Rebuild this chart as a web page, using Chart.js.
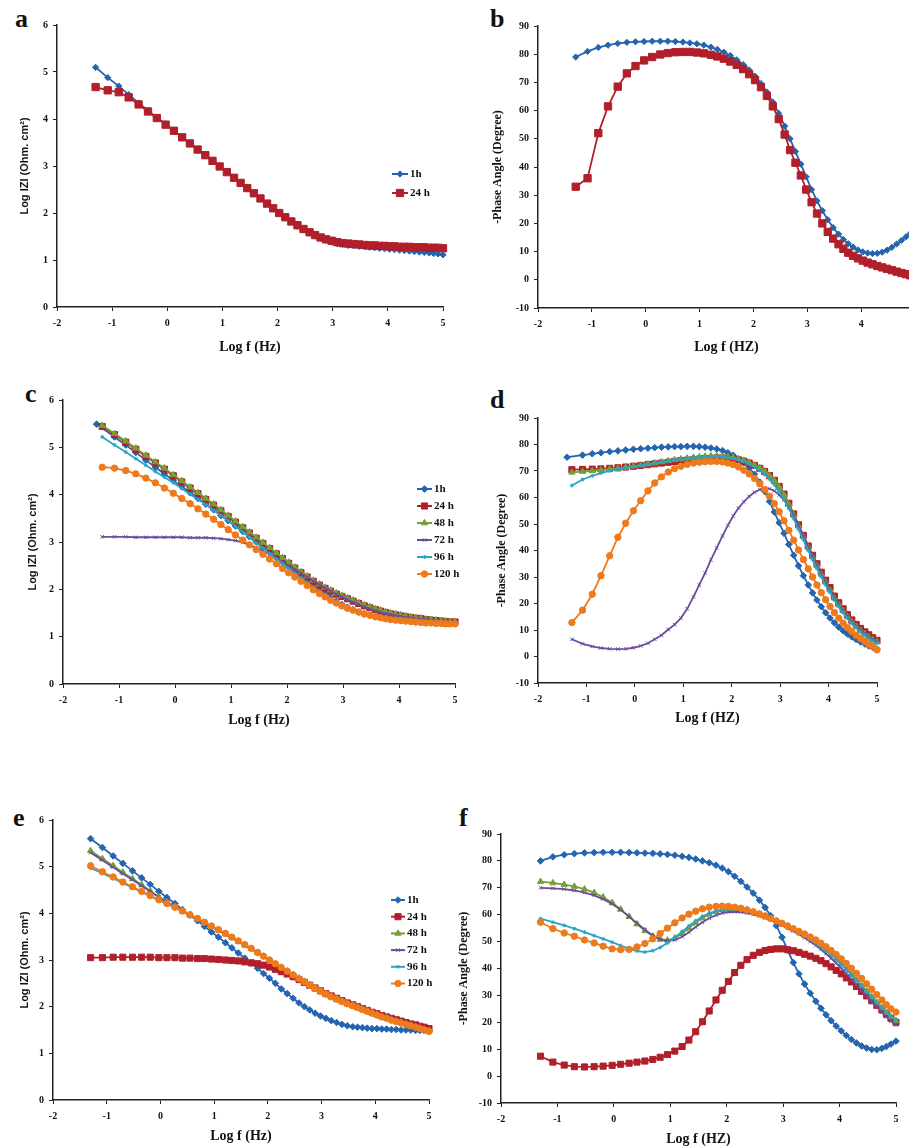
<!DOCTYPE html>
<html>
<head>
<meta charset="utf-8">
<script src="https://cdn.jsdelivr.net/npm/chart.js@4.4.1/dist/chart.umd.min.js"></script>
<style>
  html, body { margin: 0; padding: 0; background: #fff; }
  body { position: relative; width: 909px; height: 1146px; overflow: hidden; }
  canvas { position: absolute; }
  .tag { position: absolute; font: bold 26px "Liberation Serif", serif; line-height: 1; color: #111; }
</style>
</head>
<body>
<div class="tag" style="left:15px;top:6px">a</div>
<div class="tag" style="left:490px;top:6px">b</div>
<div class="tag" style="left:25px;top:381px">c</div>
<div class="tag" style="left:490px;top:387px">d</div>
<div class="tag" style="left:13px;top:805px">e</div>
<div class="tag" style="left:459px;top:805px">f</div>
<script>
// log f (Hz) of the measured points
const logF = [-1.30,-1.08,-0.88,-0.70,-0.52,-0.35,-0.19,-0.03,0.12,0.27,0.41,0.55,0.69,0.82,0.95,
  1.08,1.21,1.33,1.45,1.57,1.69,1.81,1.92,2.03,
  2.14,2.25,2.36,2.47,2.58,2.68,2.78,2.88,2.98,
  3.08,3.18,3.28,3.38,3.48,3.58,3.67,3.76,3.85,3.94,
  4.03,4.12,4.21,4.30,4.39,4.48,4.57,4.66,4.75,4.83,4.91,5.00]
// the 1h runs of c and d start a bit lower
const logF1h = [-1.40].concat(logF.slice(1))

const xTicks = [-2, -1, 0, 1, 2, 3, 4, 5]

// a: log|Z|
const a1h = [5.10,4.88,4.70,4.52,4.34,4.18,4.03,3.89,3.75,3.61,3.48,3.35,3.23,3.11,2.99,
  2.87,2.75,2.64,2.53,2.42,2.31,2.20,2.10,2.00,
  1.90,1.81,1.72,1.64,1.57,1.51,1.46,1.42,1.38,
  1.35,1.33,1.31,1.30,1.29,1.28,1.27,1.26,1.25,1.24,
  1.23,1.22,1.21,1.20,1.19,1.18,1.17,1.16,1.15,1.14,1.13,1.11]
const a24h = [4.68,4.61,4.57,4.46,4.31,4.16,4.02,3.88,3.75,3.61,3.48,3.35,3.23,3.11,2.99,
  2.87,2.75,2.64,2.53,2.42,2.31,2.20,2.10,2.00,
  1.91,1.82,1.74,1.66,1.59,1.53,1.48,1.44,1.41,
  1.38,1.36,1.35,1.34,1.33,1.32,1.31,1.31,1.30,1.30,
  1.29,1.29,1.28,1.28,1.28,1.27,1.27,1.27,1.26,1.26,1.26,1.25]

// b: phase
const b1h = [79.0,81.0,82.4,83.2,83.8,84.2,84.4,84.5,84.6,84.6,84.6,84.5,84.3,84.0,83.7,
  83.2,82.5,81.7,80.7,79.5,78.0,76.3,74.4,72.2,
  69.6,66.6,63.0,59.0,54.5,50.0,45.5,41.0,36.5,
  32.0,28.0,24.5,21.3,18.5,16.2,14.3,12.8,11.6,10.6,
  9.9,9.5,9.3,9.4,9.8,10.5,11.5,12.7,14.0,15.2,16.4,17.6]
const b24h = [33.0,36.0,52.0,61.5,68.5,73.2,75.8,77.8,79.0,79.9,80.4,80.7,80.8,80.8,80.6,
  80.3,79.8,79.2,78.4,77.4,76.2,74.7,72.9,70.8,
  68.3,65.2,61.5,57.0,51.5,46.0,41.5,37.0,32.0,
  27.5,23.5,20.0,17.0,14.6,12.6,11.0,9.6,8.5,7.6,
  6.8,6.1,5.5,4.9,4.4,3.9,3.4,2.9,2.4,2.0,1.6,1.2]

// c: log|Z|
const c1h = [5.49,5.22,5.05,4.89,4.73,4.58,4.44,4.30,4.17,4.04,3.92,3.80,3.68,3.56,3.45,
  3.34,3.22,3.11,3.00,2.89,2.78,2.67,2.57,2.47,
  2.37,2.27,2.17,2.07,1.98,1.90,1.82,1.75,1.68,
  1.62,1.57,1.52,1.48,1.45,1.42,1.40,1.38,1.36,1.35,
  1.34,1.33,1.32,1.31,1.31,1.30,1.30,1.29,1.29,1.29,1.28,1.28]
const c24h = [5.44,5.27,5.11,4.96,4.81,4.67,4.54,4.40,4.27,4.14,4.02,3.90,3.78,3.66,3.54,
  3.42,3.30,3.19,3.08,2.97,2.86,2.75,2.65,2.55,
  2.45,2.35,2.26,2.17,2.09,2.02,1.96,1.90,1.85,
  1.80,1.75,1.70,1.65,1.61,1.57,1.54,1.51,1.48,1.46,
  1.44,1.42,1.40,1.39,1.38,1.36,1.35,1.34,1.33,1.32,1.31,1.31]
const c48h = [5.46,5.29,5.13,4.98,4.83,4.69,4.56,4.42,4.29,4.16,4.04,3.92,3.80,3.68,3.56,
  3.44,3.32,3.21,3.10,2.99,2.88,2.77,2.67,2.57,
  2.47,2.37,2.28,2.19,2.11,2.04,1.98,1.92,1.87,
  1.82,1.77,1.72,1.67,1.63,1.59,1.56,1.53,1.50,1.48,
  1.46,1.44,1.42,1.40,1.39,1.37,1.36,1.35,1.34,1.33,1.32,1.32]
const c72h = [3.11,3.11,3.11,3.10,3.10,3.10,3.10,3.10,3.10,3.09,3.09,3.09,3.08,3.07,3.05,
  3.03,2.99,2.94,2.88,2.81,2.74,2.66,2.58,2.50,
  2.42,2.34,2.26,2.18,2.10,2.03,1.96,1.90,1.84,
  1.78,1.73,1.68,1.63,1.59,1.55,1.52,1.49,1.47,1.45,
  1.43,1.41,1.40,1.38,1.37,1.36,1.35,1.34,1.33,1.32,1.31,1.31]
const c96h = [5.22,5.05,4.90,4.76,4.62,4.49,4.37,4.25,4.13,4.01,3.90,3.79,3.67,3.56,3.45,
  3.33,3.21,3.10,2.98,2.87,2.75,2.64,2.54,2.44,
  2.34,2.24,2.14,2.05,1.96,1.88,1.80,1.73,1.67,
  1.61,1.56,1.52,1.48,1.45,1.42,1.40,1.38,1.36,1.35,
  1.34,1.33,1.32,1.31,1.30,1.30,1.29,1.29,1.28,1.28,1.28,1.27]
const c120h = [4.58,4.56,4.51,4.44,4.35,4.25,4.14,4.03,3.92,3.81,3.70,3.59,3.48,3.37,3.26,
  3.15,3.04,2.94,2.84,2.74,2.64,2.54,2.44,2.35,
  2.26,2.17,2.08,1.99,1.91,1.84,1.77,1.71,1.65,
  1.60,1.56,1.52,1.48,1.45,1.42,1.40,1.38,1.36,1.35,
  1.34,1.33,1.32,1.31,1.30,1.29,1.29,1.28,1.28,1.27,1.27,1.27]

// d: phase
const d1h = [75.2,76.0,76.5,76.9,77.3,77.6,77.9,78.2,78.4,78.6,78.8,79.0,79.1,79.2,79.2,
  79.3,79.3,79.2,79.0,78.7,78.3,77.7,76.9,75.9,
  74.6,73.0,71.2,68.8,65.8,62.3,58.5,54.5,50.5,
  46.5,42.3,38.2,34.2,30.5,27.0,24.0,21.3,18.8,16.5,
  14.5,12.7,11.1,9.7,8.5,7.4,6.4,5.5,4.7,4.0,3.4,2.8]
const d24h = [70.5,70.6,70.7,70.8,71.0,71.2,71.5,71.8,72.1,72.4,72.7,73.0,73.3,73.6,73.9,
  74.1,74.3,74.5,74.7,74.8,74.9,74.9,74.8,74.6,
  74.2,73.7,73.0,72.1,71.0,69.8,68.3,66.5,64.2,
  61.3,57.8,53.8,49.7,45.7,41.7,38.2,35.0,31.8,28.8,
  26.0,22.8,20.3,18.0,15.8,13.8,12.1,10.6,9.3,8.2,7.1,6.1]
const d48h = [69.5,69.8,70.1,70.4,70.7,71.0,71.4,71.8,72.2,72.6,73.0,73.4,73.8,74.2,74.5,
  74.8,75.1,75.3,75.5,75.6,75.7,75.6,75.4,75.1,
  74.6,74.0,73.2,72.3,71.2,69.9,68.3,66.4,64.0,
  61.0,57.4,53.4,49.3,45.2,41.2,37.6,34.3,31.0,28.0,
  25.1,22.0,19.5,17.2,15.0,13.0,11.3,9.8,8.5,7.4,6.4,5.5]
const d72h = [6.5,4.8,3.8,3.2,2.9,2.8,2.9,3.3,4.0,5.0,6.5,8.0,10.2,12.0,14.5,
  18.0,22.5,27.0,31.5,36.5,41.0,45.5,49.5,53.0,
  56.0,58.4,60.4,62.0,63.0,63.5,63.3,62.5,61.0,
  59.0,56.4,53.2,49.4,45.5,41.5,37.8,34.4,31.0,28.0,
  25.1,22.1,19.6,17.3,15.1,13.1,11.4,9.9,8.6,7.5,6.5,5.5]
const d96h = [64.5,66.8,68.2,69.2,70.0,70.6,71.2,71.7,72.2,72.6,73.0,73.4,73.8,74.1,74.4,
  74.7,75.0,75.2,75.3,75.4,75.4,75.3,75.1,74.7,
  74.2,73.5,72.6,71.5,70.2,68.7,66.9,64.8,62.3,
  59.3,55.9,52.0,48.0,44.0,40.0,36.5,33.2,30.0,27.0,
  24.2,21.3,18.8,16.5,14.4,12.5,10.8,9.3,8.0,6.9,5.9,5.0]
const d120h = [12.8,17.5,23.5,30.5,38.0,45.0,50.3,55.0,58.8,62.5,65.5,67.8,69.6,70.9,71.8,
  72.5,73.0,73.3,73.5,73.6,73.6,73.4,73.0,72.4,
  71.5,70.3,68.9,67.2,65.2,63.0,60.5,57.7,54.6,
  51.2,47.6,43.9,40.2,36.6,33.1,30.0,27.0,24.1,21.4,
  18.9,16.6,14.5,12.6,10.9,9.4,8.0,6.8,5.7,4.7,3.8,2.5]

// e: log|Z|
const e1h = [5.60,5.41,5.23,5.07,4.91,4.76,4.62,4.47,4.34,4.21,4.08,3.96,3.84,3.72,3.60,
  3.49,3.37,3.26,3.15,3.04,2.93,2.82,2.71,2.61,
  2.50,2.38,2.28,2.18,2.08,2.00,1.93,1.86,1.80,
  1.75,1.70,1.66,1.62,1.59,1.57,1.56,1.55,1.54,1.53,
  1.53,1.52,1.52,1.51,1.51,1.50,1.50,1.50,1.49,1.49,1.49,1.48]
const e24h = [3.05,3.05,3.06,3.06,3.06,3.06,3.06,3.05,3.05,3.05,3.04,3.04,3.03,3.03,3.02,
  3.01,3.00,2.99,2.98,2.96,2.94,2.92,2.89,2.85,
  2.80,2.75,2.70,2.64,2.58,2.52,2.46,2.40,2.34,
  2.28,2.23,2.18,2.13,2.08,2.04,2.00,1.96,1.92,1.88,
  1.85,1.81,1.78,1.75,1.72,1.69,1.66,1.63,1.61,1.58,1.56,1.53]
const e48h = [5.34,5.17,5.02,4.88,4.74,4.61,4.48,4.35,4.24,4.14,4.05,3.96,3.88,3.80,3.72,
  3.64,3.56,3.48,3.40,3.32,3.24,3.16,3.08,3.00,
  2.92,2.84,2.76,2.68,2.61,2.54,2.47,2.40,2.34,
  2.28,2.22,2.17,2.12,2.07,2.03,1.99,1.95,1.91,1.87,
  1.83,1.79,1.76,1.72,1.69,1.66,1.63,1.60,1.57,1.54,1.51,1.48]
const e72h = [5.30,5.14,4.99,4.85,4.72,4.59,4.47,4.35,4.24,4.14,4.04,3.95,3.87,3.79,3.71,
  3.63,3.55,3.47,3.39,3.31,3.23,3.15,3.07,2.99,
  2.91,2.83,2.75,2.68,2.61,2.54,2.47,2.41,2.35,
  2.29,2.23,2.18,2.13,2.08,2.04,2.00,1.96,1.92,1.88,
  1.85,1.81,1.78,1.75,1.72,1.69,1.66,1.63,1.60,1.57,1.54,1.52]
const e96h = [4.97,4.86,4.75,4.65,4.55,4.46,4.37,4.28,4.20,4.12,4.04,3.96,3.88,3.80,3.72,
  3.64,3.56,3.48,3.40,3.32,3.24,3.16,3.08,3.00,
  2.92,2.84,2.76,2.68,2.60,2.53,2.46,2.39,2.33,
  2.27,2.21,2.16,2.11,2.06,2.02,1.98,1.94,1.90,1.86,
  1.82,1.78,1.75,1.71,1.68,1.65,1.62,1.59,1.56,1.52,1.49,1.46]
const e120h = [5.02,4.89,4.78,4.67,4.57,4.47,4.38,4.29,4.21,4.13,4.05,3.97,3.89,3.81,3.73,
  3.65,3.57,3.49,3.41,3.33,3.25,3.16,3.08,3.00,
  2.92,2.84,2.76,2.68,2.60,2.53,2.46,2.39,2.33,
  2.27,2.21,2.16,2.11,2.06,2.02,1.98,1.94,1.90,1.86,
  1.82,1.78,1.75,1.71,1.68,1.65,1.62,1.59,1.56,1.53,1.50,1.47]

// f: phase
const f1h = [80.0,81.5,82.3,82.7,83.0,83.1,83.2,83.2,83.2,83.1,83.0,82.9,82.8,82.6,82.4,
  82.1,81.7,81.3,80.7,80.0,79.3,78.4,77.3,76.0,
  74.3,72.4,70.3,68.0,65.4,62.7,59.6,55.9,51.6,
  46.8,42.2,38.0,34.2,30.8,27.8,25.2,22.8,20.6,18.6,
  16.8,15.1,13.6,12.3,11.2,10.4,9.9,9.8,10.3,11.0,11.9,13.0]
const f24h = [7.4,5.2,4.1,3.5,3.4,3.5,3.7,4.0,4.4,4.8,5.2,5.6,6.2,7.0,8.0,
  9.3,11.0,13.4,16.5,20.2,24.2,28.3,31.9,35.2,
  38.5,41.2,43.3,44.9,46.0,46.7,47.1,47.3,47.3,
  47.0,46.6,46.0,45.3,44.6,43.8,42.9,41.8,40.6,39.3,
  38.0,36.5,35.0,33.3,31.5,29.8,28.0,26.3,24.6,23.0,21.5,20.0]
const f48h = [72.3,71.8,71.2,70.5,69.5,68.2,66.5,64.5,62.0,59.3,56.5,54.0,52.0,50.8,50.5,
  51.3,53.0,55.0,57.0,58.8,60.2,61.2,61.8,62.1,
  62.2,62.0,61.6,61.0,60.3,59.5,58.6,57.7,56.7,
  55.7,54.6,53.5,52.3,51.0,49.7,48.3,46.8,45.2,43.5,
  41.7,39.8,37.8,35.8,33.7,31.6,29.5,27.4,25.4,23.6,22.0,20.5]
const f72h = [70.0,69.8,69.5,69.0,68.2,67.2,65.8,64.0,61.8,59.3,56.8,54.4,52.3,50.9,50.3,
  50.6,51.8,53.5,55.4,57.2,58.7,59.8,60.6,61.0,
  61.1,61.0,60.6,60.1,59.5,58.8,58.0,57.1,56.1,
  55.0,53.9,52.7,51.4,50.0,48.6,47.1,45.5,43.8,42.0,
  40.1,38.1,36.1,34.0,31.9,29.8,27.7,25.7,23.8,22.0,20.4,19.0]
const f96h = [58.5,57.2,56.0,54.8,53.5,52.2,51.0,49.8,48.5,47.3,46.5,46.1,46.6,47.8,49.5,
  51.5,53.7,55.8,57.7,59.3,60.5,61.4,61.9,62.1,
  62.1,61.8,61.3,60.7,60.0,59.2,58.4,57.5,56.5,
  55.5,54.4,53.3,52.1,50.8,49.5,48.1,46.6,45.0,43.3,
  41.5,39.6,37.6,35.6,33.5,31.4,29.3,27.3,25.4,23.7,22.2,21.0]
const f120h = [57.2,54.8,53.2,52.0,50.6,49.5,48.3,47.3,47.0,47.1,48.0,49.3,51.0,53.0,55.0,
  57.0,58.8,60.2,61.3,62.2,62.8,63.1,63.2,63.1,
  62.8,62.4,61.8,61.1,60.3,59.5,58.6,57.7,56.8,
  55.8,54.8,53.8,52.8,51.7,50.6,49.4,48.1,46.7,45.2,
  43.6,41.9,40.1,38.2,36.3,34.3,32.3,30.3,28.3,26.5,25.0,23.8]

const looks = {
  "1h":    { color: "#2465b0", point: "rectRot",  r: 3.3 },
  "24 h":  { color: "#b01f2a", point: "rect",     r: 4.3 },
  "48 h":  { color: "#76a035", point: "triangle", r: 3.6 },
  "72 h":  { color: "#6b4b9e", point: "crossRot", r: 2.5 },
  "96 h":  { color: "#2ba3c6", point: "star",     r: 2 },
  "120 h": { color: "#ef7a1c", point: "circle",   r: 3.2 },
}

const serif = '"Liberation Serif", "Times New Roman", serif'
const sans = '"Liberation Sans", Arial, sans-serif'

const sideLegend = {
  id: "sideLegend",
  afterDraw(chart, args, opts) {
    if (!opts.show) return
    const ctx = chart.ctx
    ctx.save()
    chart.data.datasets.forEach((ds, i) => {
      const y = opts.y + i * opts.dy
      ctx.strokeStyle = ds.borderColor
      ctx.fillStyle = ds.borderColor
      ctx.lineWidth = 2
      ctx.beginPath()
      ctx.moveTo(opts.x, y)
      ctx.lineTo(opts.x + opts.w, y)
      ctx.stroke()
      ctx.lineWidth = 1
      Chart.helpers.drawPoint(ctx, { pointStyle: ds.pointStyle, radius: ds.pointRadius, borderWidth: 1 }, opts.x + opts.w / 2, y)
      ctx.fillStyle = "#111"
      ctx.font = "bold 11px " + serif
      ctx.textBaseline = "middle"
      ctx.textAlign = "left"
      ctx.fillText(ds.label, opts.x + opts.w + 2, y)
    })
    ctx.restore()
  }
}

function series(label, xs, ys, scale) {
  const lk = looks[label]
  return {
    label: label,
    data: xs.map((x, i) => ({ x: x, y: ys[i] })),
    borderColor: lk.color,
    backgroundColor: lk.color,
    pointBackgroundColor: lk.color,
    pointBorderColor: lk.color,
    pointStyle: lk.point,
    pointRadius: lk.r * (scale || 1),
    pointBorderWidth: 1,
    borderWidth: 1.8,
    tension: 0,
    clip: 6,
  }
}

function makePanel(p) {
  const padTop = 10, padRight = 10
  const left = p.L - p.yw, top = p.T - padTop
  const w = p.R - p.L + p.yw + padRight
  const h = p.B - p.T + padTop + p.xh
  const cv = document.createElement("canvas")
  cv.width = w
  cv.height = h
  cv.style.left = left + "px"
  cv.style.top = top + "px"
  document.body.appendChild(cv)

  const n = p.sets.length
  p.sets.forEach((s, i) => { s.order = n - i })

  const tickFont = { family: serif, size: 10, weight: "bold" }
  const axisGrid = { drawOnChartArea: false, drawTicks: true, tickLength: 4, color: "#222", lineWidth: 1 }

  new Chart(cv, {
    type: "line",
    data: { datasets: p.sets },
    options: {
      responsive: false,
      animation: false,
      devicePixelRatio: 1,
      layout: { padding: { top: padTop, right: padRight, left: 0, bottom: 0 } },
      plugins: {
        legend: { display: false },
        tooltip: { enabled: false },
        sideLegend: p.legend
          ? { show: true, x: p.legend.x - left, y: p.legend.y - top, dy: p.legend.dy, w: p.legend.w }
          : { show: false },
      },
      scales: {
        x: {
          type: "linear",
          min: -2, max: 5,
          afterBuildTicks: (sc) => { sc.ticks = xTicks.map(v => ({ value: v })) },
          afterFit: (sc) => { sc.height = p.xh },
          ticks: { font: tickFont, color: "#111", padding: 6, autoSkip: false, maxRotation: 0 },
          grid: axisGrid,
          border: { display: true, color: "#222", width: 1.5 },
          title: { display: true, text: p.xTitle, color: "#111", padding: 0,
                   font: { family: serif, size: 14, weight: "bold" } },
        },
        y: {
          min: p.yMin, max: p.yMax,
          afterFit: (sc) => { sc.width = p.yw },
          ticks: { stepSize: p.yStep, font: tickFont, color: "#111", padding: 5 },
          grid: axisGrid,
          border: { display: true, color: "#222", width: 1.5 },
          title: { display: true, text: p.yTitle, color: "#111", padding: 0,
                   font: p.phase ? { family: serif, size: 12, weight: "bold" }
                                 : { family: sans, size: 11, weight: "bold" } },
        },
      },
    },
    plugins: [sideLegend],
  })
}

const zTitle = "Log IZI (Ohm. cm\u00b2)"
const pTitle = "-Phase Angle (Degree)"

makePanel({
  L: 57, T: 24, R: 443, B: 307, yw: 39, xh: 49,
  yMin: 0, yMax: 6, yStep: 1, yTitle: zTitle, xTitle: "Log f (Hz)",
  legend: { x: 392, y: 174, dy: 19, w: 16 },
  sets: [series("1h", logF, a1h, 0.95), series("24 h", logF, a24h, 1.2)],
})
makePanel({
  L: 538, T: 25, R: 915, B: 308, yw: 47, xh: 48, phase: true,
  yMin: -10, yMax: 90, yStep: 10, yTitle: pTitle, xTitle: "Log f (HZ)",
  sets: [series("1h", logF, b1h, 0.95), series("24 h", logF, b24h, 1.2)],
})
makePanel({
  L: 63, T: 399, R: 455, B: 684, yw: 37, xh: 45,
  yMin: 0, yMax: 6, yStep: 1, yTitle: zTitle, xTitle: "Log f (Hz)",
  legend: { x: 417, y: 489, dy: 17, w: 15 },
  sets: [series("1h", logF1h, c1h), series("24 h", logF, c24h), series("48 h", logF, c48h),
         series("72 h", logF, c72h), series("96 h", logF, c96h), series("120 h", logF, c120h)],
})
makePanel({
  L: 538, T: 417, R: 877, B: 683, yw: 43, xh: 44, phase: true,
  yMin: -10, yMax: 90, yStep: 10, yTitle: pTitle, xTitle: "Log f (HZ)",
  sets: [series("1h", logF1h, d1h), series("24 h", logF, d24h), series("48 h", logF, d48h),
         series("72 h", logF, d72h), series("96 h", logF, d96h), series("120 h", logF, d120h)],
})
makePanel({
  L: 53, T: 819, R: 429, B: 1100, yw: 35, xh: 45,
  yMin: 0, yMax: 6, yStep: 1, yTitle: zTitle, xTitle: "Log f (Hz)",
  legend: { x: 391, y: 900, dy: 16.7, w: 14 },
  sets: [series("1h", logF, e1h), series("24 h", logF, e24h), series("48 h", logF, e48h),
         series("72 h", logF, e72h), series("96 h", logF, e96h), series("120 h", logF, e120h)],
})
makePanel({
  L: 501, T: 833, R: 896, B: 1103, yw: 44, xh: 45, phase: true,
  yMin: -10, yMax: 90, yStep: 10, yTitle: pTitle, xTitle: "Log f (HZ)",
  sets: [series("1h", logF, f1h), series("24 h", logF, f24h), series("48 h", logF, f48h),
         series("72 h", logF, f72h), series("96 h", logF, f96h), series("120 h", logF, f120h)],
})
</script>
</body>
</html>
